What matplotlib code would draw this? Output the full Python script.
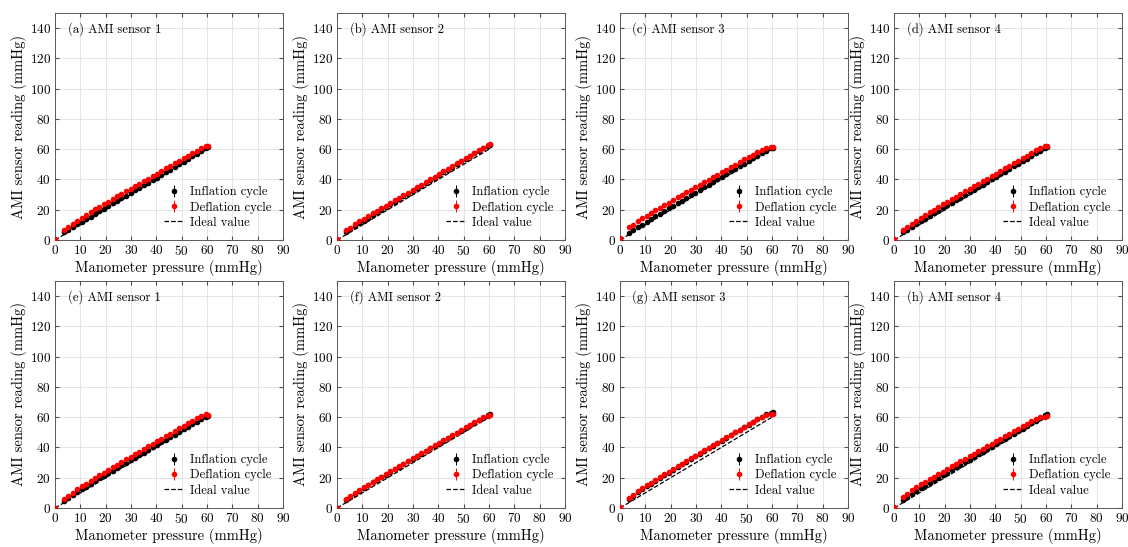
import numpy as np
import matplotlib
matplotlib.use("Agg")
import matplotlib.pyplot as plt

plt.rcParams['font.family'] = ['cmr10', 'DejaVu Serif']
plt.rcParams['mathtext.fontset'] = 'cm'
plt.rcParams['axes.formatter.use_mathtext'] = True

# manometer pressure (mmHg), same set points for every sensor
pressure = [0, 3.5, 5.2, 7.0, 8.8, 10.5, 12.2, 14.0, 15.8, 17.5, 19.2, 21.0, 22.8, 24.5, 26.2, 28.0, 29.8,
            31.5, 33.2, 35.0, 36.8, 38.5, 40.2, 42.0, 43.8, 45.5, 47.2, 49.0, 50.8, 52.5, 54.2, 56.0, 57.8,
            59.5, 60.3]

titles = ["(a) AMI sensor 1", "(b) AMI sensor 2", "(c) AMI sensor 3", "(d) AMI sensor 4",
          "(e) AMI sensor 1", "(f) AMI sensor 2", "(g) AMI sensor 3", "(h) AMI sensor 4"]

# sensor readings (mmHg), inflation / deflation cycle for each panel
infl_a = [0.3, 5.0, 6.6, 8.6, 10.4, 12.0, 13.7, 15.5, 17.3, 19.0, 20.7, 22.5, 24.2, 25.9, 27.6, 29.4, 31.1,
          32.8, 34.5, 36.2, 38.0, 39.6, 41.3, 43.1, 44.8, 46.5, 48.2, 50.0, 51.7, 53.4, 55.2, 57.0, 58.8,
          60.5, 61.2]
defl_a = [0.5, 6.5, 8.4, 10.8, 12.9, 14.8, 16.6, 18.5, 20.3, 22.0, 23.7, 25.4, 27.1, 28.8, 30.4, 32.2, 33.9,
          35.5, 37.2, 38.9, 40.6, 42.2, 43.9, 45.6, 47.3, 48.9, 50.6, 52.3, 54.0, 55.6, 57.3, 58.9, 60.5,
          61.8, 62.2]
infl_b = [0.2, 5.3, 7.2, 9.2, 11.1, 12.9, 14.6, 16.5, 18.3, 20.0, 21.8, 23.6, 25.4, 27.1, 28.9, 30.7, 32.5,
          34.2, 36.0, 37.8, 39.6, 41.3, 43.1, 44.9, 46.6, 48.4, 50.4, 52.0, 53.7, 55.4, 57.2, 59.0, 60.8,
          62.4, 63.0]
defl_b = [0.4, 6.5, 8.2, 10.5, 12.3, 14.0, 15.8, 17.6, 19.3, 21.0, 22.8, 24.5, 26.2, 28.0, 29.7, 31.4, 33.1,
          34.9, 36.6, 38.4, 40.1, 41.9, 43.6, 45.4, 47.1, 48.9, 50.6, 52.4, 54.1, 55.8, 57.6, 59.3, 61.0,
          62.6, 63.2]
infl_c = [0.4, 4.8, 6.5, 8.4, 10.2, 12.0, 13.7, 15.6, 17.4, 19.1, 20.9, 22.7, 24.4, 26.1, 27.8, 29.6, 31.4,
          33.1, 34.8, 36.6, 38.4, 40.1, 41.8, 43.6, 45.3, 47.0, 48.7, 50.5, 52.2, 53.9, 55.6, 57.3, 59.0,
          60.5, 61.0]
defl_c = [1.2, 8.3, 10.0, 12.6, 14.4, 16.1, 17.8, 19.6, 21.3, 23.0, 24.7, 26.4, 28.1, 29.8, 31.5, 33.2, 34.9,
          36.6, 38.2, 39.9, 41.6, 43.2, 44.9, 46.6, 48.3, 49.9, 51.6, 53.3, 54.9, 56.5, 58.1, 59.6, 60.8,
          61.3, 61.5]
infl_d = [0.3, 5.1, 6.9, 8.9, 10.7, 12.4, 14.1, 15.9, 17.7, 19.4, 21.1, 22.9, 24.6, 26.3, 28.0, 29.8, 31.5,
          33.2, 34.9, 36.6, 38.4, 40.0, 41.7, 43.5, 45.2, 46.9, 48.6, 50.4, 52.1, 53.8, 55.5, 57.3, 59.1,
          60.8, 61.7]
defl_d = [0.6, 6.6, 8.5, 10.7, 12.8, 14.6, 16.4, 18.3, 20.1, 21.8, 23.5, 25.3, 27.0, 28.7, 30.4, 32.1, 33.8,
          35.5, 37.2, 38.9, 40.6, 42.2, 43.9, 45.7, 47.4, 49.0, 50.7, 52.4, 54.1, 55.8, 57.5, 59.2, 60.8,
          62.0, 62.4]
infl_e = [0.2, 4.9, 6.7, 8.7, 10.6, 12.4, 14.2, 16.0, 17.8, 19.5, 21.2, 23.0, 24.7, 26.4, 28.1, 29.9, 31.6,
          33.2, 34.9, 36.6, 38.4, 40.0, 41.7, 43.5, 45.2, 46.9, 48.5, 50.3, 52.0, 53.7, 55.4, 57.1, 58.9,
          60.3, 60.9]
defl_e = [0.3, 6.0, 8.0, 10.2, 12.3, 14.3, 16.1, 18.0, 19.9, 21.6, 23.4, 25.2, 26.9, 28.6, 30.3, 32.1, 33.8,
          35.5, 37.2, 38.9, 40.7, 42.3, 44.0, 45.8, 47.5, 49.1, 50.8, 52.6, 54.3, 56.0, 57.7, 59.3, 61.0,
          61.8, 61.6]
infl_f = [0.2, 5.4, 7.3, 9.5, 11.5, 13.3, 15.0, 16.9, 18.7, 20.4, 22.1, 23.9, 25.6, 27.3, 29.0, 30.8, 32.5,
          34.2, 35.9, 37.6, 39.4, 41.0, 42.3, 44.4, 46.1, 47.8, 49.5, 51.2, 52.9, 54.6, 56.3, 58.0, 59.7,
          61.2, 62.2]
defl_f = [0.3, 5.8, 7.7, 9.9, 11.9, 13.7, 15.5, 17.3, 19.1, 20.8, 22.5, 24.3, 26.0, 27.7, 29.4, 31.1, 32.8,
          34.5, 36.2, 37.9, 39.7, 41.3, 43.0, 44.8, 46.5, 48.2, 49.8, 51.6, 53.3, 54.9, 56.6, 58.3, 60.0,
          60.8, 61.2]
infl_g = [0.3, 6.2, 8.1, 10.3, 12.4, 14.3, 16.1, 18.0, 19.9, 21.6, 23.4, 25.3, 27.1, 28.8, 30.6, 32.4, 34.2,
          35.9, 37.6, 39.4, 41.2, 42.9, 44.6, 46.4, 48.2, 49.9, 51.6, 53.4, 55.1, 56.8, 58.5, 60.2, 61.9,
          62.6, 63.2]
defl_g = [0.4, 6.8, 8.8, 11.0, 13.1, 15.0, 16.8, 18.8, 20.6, 22.4, 24.1, 25.9, 27.6, 29.4, 31.1, 32.8, 34.6,
          36.3, 38.0, 39.8, 41.5, 43.2, 44.9, 46.7, 48.4, 50.1, 51.8, 53.6, 55.3, 57.0, 58.6, 60.2, 61.5,
          61.9, 62.0]
infl_h = [0.3, 5.3, 7.0, 9.1, 11.1, 12.9, 14.6, 16.4, 18.2, 19.9, 21.6, 23.4, 25.1, 26.8, 28.5, 30.3, 32.0,
          33.7, 35.4, 37.1, 38.9, 40.5, 42.2, 44.0, 45.7, 47.4, 49.0, 50.8, 52.5, 54.2, 55.9, 57.6, 59.4,
          61.5, 62.4]
defl_h = [0.4, 7.2, 9.3, 11.8, 13.8, 15.6, 17.3, 19.1, 20.8, 22.5, 24.1, 25.9, 27.6, 29.2, 30.9, 32.6, 34.3,
          35.9, 37.6, 39.2, 40.9, 42.5, 44.1, 45.9, 47.5, 49.1, 50.7, 52.4, 54.0, 55.6, 57.2, 58.7, 59.8,
          60.4, 60.6]

inflation = [infl_a, infl_b, infl_c, infl_d, infl_e, infl_f, infl_g, infl_h]
deflation = [defl_a, defl_b, defl_c, defl_d, defl_e, defl_f, defl_g, defl_h]
infl_err = [0.6, 0.7, 0.6, 0.8, 0.8, 0.9, 0.9, 0.8]
defl_err = [0.8, 0.9, 1.2, 0.8, 1.0, 1.1, 1.0, 0.9]

fig = plt.figure(figsize=(11.28, 5.47), dpi=100)

lefts = [0.0488, 0.2988, 0.5496, 0.7926]
bottoms = [0.5612, 0.0713]
w, h = 0.2021, 0.415

for i in range(8):
    r, c = i // 4, i % 4
    ax = fig.add_axes([lefts[c], bottoms[r], w, h])
    e1 = ax.errorbar(pressure, inflation[i], yerr=infl_err[i], fmt='o', color='k', ms=3,
                     elinewidth=0.7, capsize=0, label='Inflation cycle', zorder=3)
    e2 = ax.errorbar(pressure, deflation[i], yerr=defl_err[i], fmt='o', color='red', ms=3,
                     elinewidth=0.7, capsize=0, label='Deflation cycle', zorder=4)
    l1, = ax.plot(pressure, pressure, '--', color='k', lw=0.9, label='Ideal value', zorder=2)
    ax.set_xlim(0, 90)
    ax.set_ylim(0, 150)
    ax.set_xticks(np.arange(0, 91, 10))
    ax.set_yticks(np.arange(0, 141, 20))
    ax.grid(True, color='0.88', lw=0.6)
    ax.set_axisbelow(True)
    ax.tick_params(direction='in', top=True, right=True, labelsize=9.5, length=3,
                   color='0.3', pad=3)
    for s in ax.spines.values():
        s.set_color('0.35')
        s.set_linewidth(0.7)
    ax.set_xlabel('Manometer pressure (mmHg)', fontsize=10.5, labelpad=1)
    ax.set_ylabel('AMI sensor reading (mmHg)', fontsize=10.5, labelpad=2)
    ax.text(0.055, 0.93, titles[i], transform=ax.transAxes, fontsize=9, va='center')
    ax.legend([e1, e2, l1], ['Inflation cycle', 'Deflation cycle', 'Ideal value'],
              loc='lower right', frameon=False, fontsize=9, handlelength=1.6,
              handletextpad=0.5, labelspacing=0.25, borderaxespad=0.5)

plt.savefig("out.png", dpi=100)
